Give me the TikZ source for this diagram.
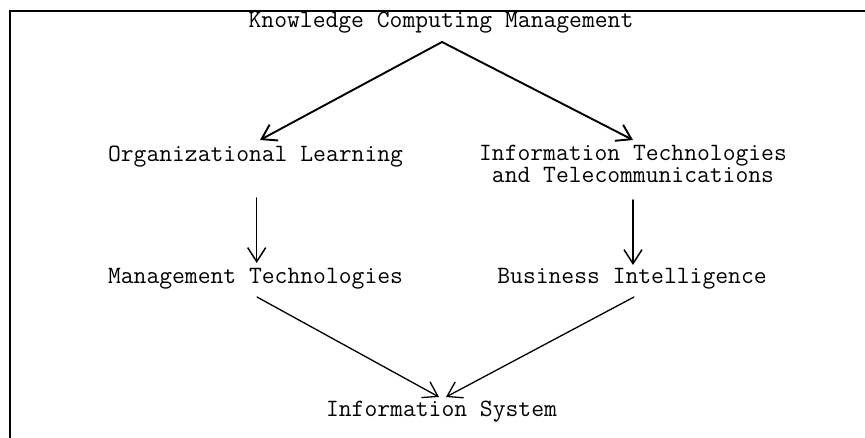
\documentclass[tikz,border=0pt]{standalone}
\usepackage{fontspec}
\usetikzlibrary{arrows.meta,calc}
\begin{document}
\begin{tikzpicture}[x=1pt,y=-1pt,
  lbl/.style={font=\ttfamily\fontsize{24.9}{21}\selectfont, inner sep=0pt, anchor=base},
  arr/.style={-{Straight Barb[length=14pt,width=18pt]}, line cap=round}]
\useasboundingbox (0,0) rectangle (865,438);
\draw[line width=1.5pt] (10,438) -- (10,11) -- (865,11);
\node[lbl] (kcm) at (441,28) {Knowledge Computing Management};
\node[lbl] (ol) at (255.5,162) {Organizational Learning};
\node[lbl] (it) at (633,161) {\begin{tabular}[t]{@{}c@{}}Information Technologies\\and Telecommunications\end{tabular}};
\node[lbl] (mt) at (255.5,284) {Management Technologies};
\node[lbl] (bi) at (632,284) {Business Intelligence};
\node[lbl] (is) at (441.5,416) {Information System};
\draw[arr,line width=1.9pt] ($(kcm.base)+(1,14)$) -- ($(ol.base)+(4.5,-22)$);
\draw[arr,line width=1.9pt] ($(kcm.base)+(1,14)$) -- ($(it.base)+(0,-21)$);
\draw[arr,line width=1.5pt] ($(ol.base)+(1.2,36)$) -- ($(mt.base)+(1.2,-21)$);
\draw[arr,line width=1.5pt] ($(it.base)+(0,39)$) -- ($(bi.base)+(1,-19)$);
\draw[arr,line width=1.3pt] ($(mt.base)+(1.5,13)$) -- ($(is.base)+(-2.5,-19)$);
\draw[arr,line width=1.3pt] ($(bi.base)+(2,13)$) -- ($(is.base)+(4.5,-19)$);
\end{tikzpicture}
\end{document}
